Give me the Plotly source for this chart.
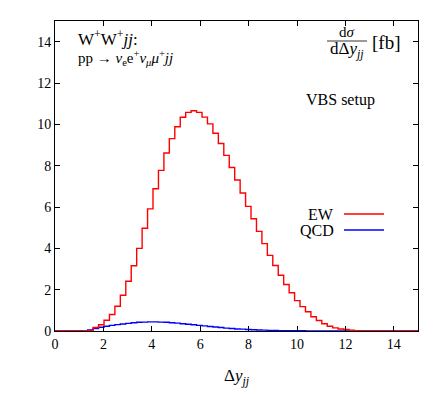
import plotly.graph_objects as go

# Histogram binning (Delta y_jj)
bin_start = 1.35
bin_width = 0.225

ew = [0.02, 0.17, 0.30, 0.52, 0.80, 1.20, 1.73, 2.41, 3.16, 4.00, 4.97, 5.91,
      6.88, 7.77, 8.61, 9.31, 9.88, 10.34, 10.58, 10.66, 10.58, 10.35, 10.02,
      9.57, 9.07, 8.50, 7.91, 7.31, 6.68, 6.03, 5.43, 4.82, 4.23, 3.66, 3.17,
      2.70, 2.25, 1.85, 1.47, 1.18, 0.93, 0.69, 0.51, 0.35, 0.23, 0.15, 0.10,
      0.07, 0.04, 0.02]

qcd = [0.05, 0.12, 0.18, 0.23, 0.27, 0.31, 0.34, 0.37, 0.40, 0.42, 0.43, 0.44,
       0.44, 0.43, 0.42, 0.40, 0.38, 0.35, 0.33, 0.30, 0.27, 0.25, 0.22, 0.19,
       0.17, 0.14, 0.12, 0.10, 0.09, 0.07, 0.06, 0.05, 0.04, 0.03, 0.03, 0.02,
       0.02, 0.015, 0.01, 0.01, 0.008, 0.006, 0.004, 0.003, 0.002, 0.001, 0.0,
       0.0, 0.0, 0.0]

x_ticks = [0, 2, 4, 6, 8, 10, 12, 14]
y_ticks = [0, 2, 4, 6, 8, 10, 12, 14]

n = len(ew)
edges = [bin_start + i * bin_width for i in range(n)]
x_end = bin_start + n * bin_width

def step_xy(vals):
    xs = [0.0] + edges + [x_end, 15.0]
    ys = [0.0] + list(vals) + [0.0, 0.0]
    return xs, ys

FONT = "Liberation Serif"

fig = go.Figure()
xq, yq = step_xy(qcd)
fig.add_trace(go.Scatter(x=xq, y=yq, mode="lines", line=dict(color="#0000ff", width=1.4, shape="hv"),
                         name="QCD", showlegend=False, hoverinfo="skip"))
xe, ye = step_xy(ew)
fig.add_trace(go.Scatter(x=xe, y=ye, mode="lines", line=dict(color="#ff0000", width=1.4, shape="hv"),
                         name="EW", showlegend=False, hoverinfo="skip"))

axis_common = dict(showline=True, linecolor="black", linewidth=1, mirror="ticks",
                   ticks="inside", ticklen=5, tickcolor="black", tickwidth=1,
                   showgrid=False, zeroline=False,
                   tickfont=dict(family=FONT, size=14, color="black"))

fig.update_xaxes(range=[0, 15], tickvals=x_ticks, **axis_common)
fig.update_yaxes(range=[0, 15], tickvals=y_ticks, **axis_common)

# page offset of the figure (body margin)
OFF = 8
W, H = 428, 386
L, R, T, B = 47, 18, 13, 63
pw, ph = W - L - R, H - T - B
PL, PB = OFF + L, OFF + H - B   # page pixel of plot-area left / bottom

def px(x):
    return (x - PL) / pw

def py(y):
    return (PB - y) / ph

ann = []
def add(text, x, y, size, xanchor="left", yanchor="middle"):
    ann.append(dict(text=text, x=px(x), y=py(y), xref="paper", yref="paper",
                    showarrow=False, xanchor=xanchor, yanchor=yanchor,
                    font=dict(family=FONT, size=size, color="black")))

add("W<sup>+</sup>W<sup>+</sup><i>jj</i>:", 76, 38, 17)
add("pp → <i>ν</i><sub>e</sub>e<sup>+</sup><i>ν<sub>μ</sub>μ</i><sup>+</sup><i>jj</i>", 76, 58, 15)
add("d<i>σ</i>", 347, 32, 15, xanchor="center")
add("dΔ<i>y<sub>jj</sub></i>", 347, 50, 17, xanchor="center")
add("[fb]", 370, 42, 19)
add("VBS setup", 340, 100, 16, xanchor="center")
add("EW", 336, 214, 16, xanchor="right")
add("QCD", 336, 230, 16, xanchor="right")
ann.append(dict(text="Δ<i>y<sub>jj</sub></i>", x=0.5, y=py(377), xref="paper", yref="paper",
                showarrow=False, xanchor="center", yanchor="middle",
                font=dict(family=FONT, size=17, color="black")))

shapes = [
    dict(type="line", xref="paper", yref="paper", x0=px(327), x1=px(367), y0=py(41), y1=py(41),
         line=dict(color="black", width=0.8)),
    dict(type="line", xref="paper", yref="paper", x0=px(344), x1=px(384), y0=py(214), y1=py(214),
         line=dict(color="#ff0000", width=1.4)),
    dict(type="line", xref="paper", yref="paper", x0=px(344), x1=px(384), y0=py(230), y1=py(230),
         line=dict(color="#0000ff", width=1.4)),
]

fig.update_layout(width=W, height=H, margin=dict(l=L, r=R, t=T, b=B),
                  paper_bgcolor="white", plot_bgcolor="white",
                  annotations=ann, shapes=shapes, showlegend=False)

fig.write_html("out.html")
